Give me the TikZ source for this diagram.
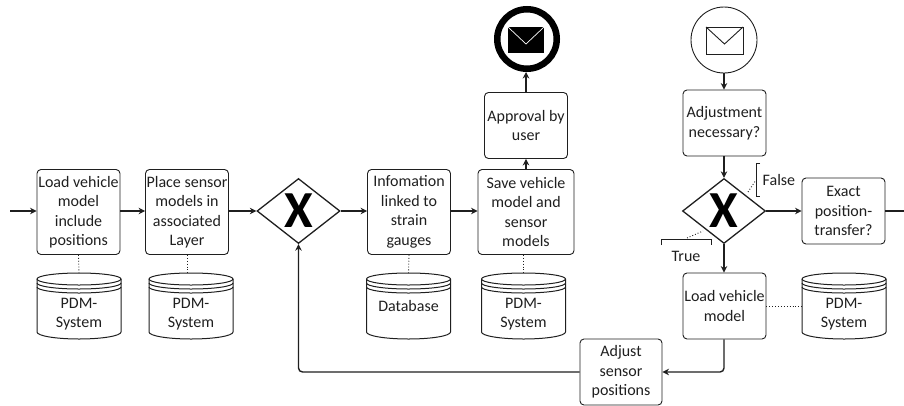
\documentclass[tikz,border=0pt]{standalone}
\usepackage{fontspec}
\setmainfont{Carlito}
\usetikzlibrary{arrows.meta,shapes.geometric,calc}
\definecolor{ink}{gray}{0.12}
\tikzset{
  x=1pt,y=-1pt,
  lbl/.style={font=\fontsize{16}{19.5}\selectfont,text=ink,align=center,inner sep=0pt},
  taskbox/.style={lbl,draw=ink,line width=0.9pt,rounded corners=4pt,minimum width=#1,minimum height=66pt},
  taskbox/.default=83pt,
  tallbox/.style={taskbox,minimum height=85pt},
  gate/.style={draw=ink,line width=1.3pt,diamond,aspect=1.27,minimum width=83pt,minimum height=65pt,inner sep=0pt,
     font=\bfseries\fontsize{52}{52}\selectfont,text=black},
  flow/.style={draw=ink,line width=1.4pt,-{Stealth[length=6.5pt,width=6.5pt]},rounded corners=4pt},
  assoc/.style={draw=ink,line width=0.9pt,dotted},
  brk/.style={draw=ink,line width=0.8pt},
  cyl/.style={draw=ink,line width=1pt},
}
% name, centre x, text
\newcommand{\dbcyl}[3]{%
  \draw[cyl] (#2-42,279) -- (#2-42,332) arc[start angle=180,end angle=360,x radius=42pt,y radius=7pt]
     -- (#2+42,279) arc[start angle=0,end angle=180,x radius=42pt,y radius=6pt] -- cycle;
  \draw[cyl] (#2-42,279) arc[start angle=180,end angle=360,x radius=42pt,y radius=6pt];
  \draw[cyl] (#2-42,283) arc[start angle=180,end angle=360,x radius=42pt,y radius=6pt];
  \draw[cyl] (#2-42,287) arc[start angle=180,end angle=360,x radius=42pt,y radius=6pt];
  \coordinate (#1top) at (#2,273);
  \coordinate (#1left) at (#2-42,306);
  \node[lbl] (#1) at (#2,#3;
}
\begin{document}
\begin{tikzpicture}
\useasboundingbox (0,0) rectangle (904,405);
% tasks
\node[tallbox] (load) at (78.5,212) {Load vehicle\\model\\include\\positions};
\node[tallbox] (place) at (187,212) {Place sensor\\models in\\associated\\Layer};
\node[gate] (g1) at (298.5,211) {X};
\node[tallbox] (info) at (409,212) {Infomation\\linked to\\strain\\gauges};
\node[tallbox,minimum width=96pt] (save) at (526,212) {Save vehicle\\model and\\sensor\\models};
\node[taskbox] (appr) at (526,125.5) {Approval by\\user};
\node[circle,draw=black,line width=6.5pt,minimum size=59.5pt,inner sep=0pt] (endev) at (527,39) {};
\node[circle,draw=ink,line width=0.9pt,minimum size=66pt,inner sep=0pt] (startev) at (724,40) {};
\node[taskbox] (adj) at (724.5,123) {Adjustment\\necessary?};
\node[gate] (g2) at (724,211) {X};
\node[taskbox] (exact) at (843.5,211) {Exact\\position-\\transfer?};
\node[taskbox] (lvm) at (724.5,306) {Load vehicle\\model};
\node[taskbox,minimum width=82pt] (sens) at (621,372) {Adjust\\sensor\\positions};
% envelopes
\fill[black] (508,27) rectangle (544,53);
\draw[white,line width=0.7pt] (508,27) -- (526,44) -- (544,27);
\draw[ink,line width=0.9pt] (706,27) rectangle (743,54);
\draw[ink,line width=0.9pt] (706,27) -- (724.5,44) -- (743,27);
% data stores
\dbcyl{db1}{79}{314) {PDM-\\System}}
\dbcyl{db2}{191}{314) {PDM-\\System}}
\dbcyl{db3}{408.5}{306) {Database}}
\dbcyl{db4}{523.5}{314) {PDM-\\System}}
\dbcyl{db5}{844}{314) {PDM-\\System}}
% external ends
\coordinate (in) at (10,211);
\coordinate (out) at (904,211);
% flows
\draw[flow] (in) -- (load.west |- in);
\draw[flow] (load.east |- in) -- (place.west |- in);
\draw[flow] (place.east |- in) -- (g1.west);
\draw[flow] (g1.east) -- (info.west |- g1.east);
\draw[flow] (info.east |- g1.east) -- (save.west |- g1.east);
\draw[flow] (save.north) -- (appr.south);
\draw[flow] (appr.north) -- (endev.south -| appr.north);
\draw[flow] (startev.south) -- (adj.north -| startev);
\draw[flow] (adj.south -| g2) -- (g2.north);
\draw[flow] (g2.east) -- (exact.west);
\draw[flow,-] (exact.east) -- (out);
\draw[flow] (g2.south) -- (lvm.north -| g2);
\draw[flow] (lvm.south -| g2) |- (sens.east);
\draw[flow] (sens.west) -| (g1.south);
% associations
\draw[assoc] (load.south) -- (db1top);
\draw[assoc] (place.south) -- (db2top -| place.south);
\draw[assoc] (info.south) -- (db3top);
\draw[assoc] (save.south -| db4top) -- (db4top);
\draw[assoc] (lvm.east) -- (db5left);
% annotations
\node[lbl,anchor=west] (ft) at (762.5,179.5) {False};
\node[lbl] (tt) at (686,256.5) {True};
\draw[brk] (760,163) -- (756,163) -- (756,196) -- (760,196);
\draw[brk] (661,245) -- (661,239.5) -- (711,239.5) -- (711,245);
\coordinate (fb) at (756,180);
\coordinate (fg) at (748,192);
\coordinate (tb) at (703,231);
\coordinate (tg) at (687,238);
\draw[assoc] (fg) -- (fb);
\draw[assoc] (tg) -- (tb);
\end{tikzpicture}
\end{document}
